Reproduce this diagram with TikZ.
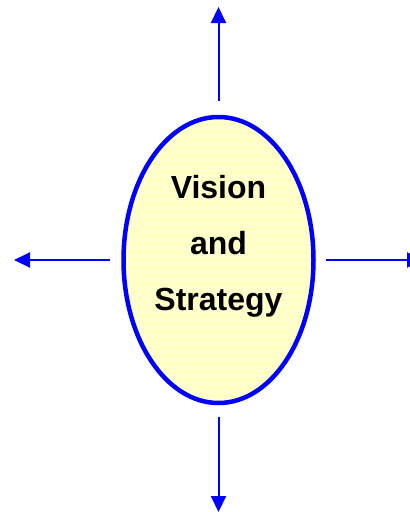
\documentclass[tikz,border=0pt]{standalone}
\usepackage{fontspec}
\setmainfont{Liberation Sans}
\usepackage{xcolor}
\usetikzlibrary{arrows.meta,shapes.geometric}

\definecolor{vsblue}{RGB}{0,0,255}
\definecolor{vsfill}{RGB}{255,255,210}
\definecolor{vsgrid}{RGB}{255,255,178}

\begin{document}
\begin{tikzpicture}[x=1pt,y=-1pt]
		\tikzstyle{vision}=[ellipse, draw=vsblue, line width=4.5pt, fill=vsfill, minimum width=190pt, minimum height=286pt, inner sep=0pt,
			path picture={\draw[vsgrid, line width=0.7pt] (path picture bounding box.south west) grid[step=8pt] (path picture bounding box.north east);}]
		\tikzstyle{vs_text}=[align=center, font=\fontsize{32}{56}\selectfont\bfseries]
		\tikzstyle{out_arrow}=[draw=vsblue, fill=vsblue, line width=2pt, -{Triangle[length=16pt,width=15pt]}]

		\useasboundingbox (0,0) rectangle (410,512);

		\node [vision] (vs) at (218.5,260) {};
		\node [vs_text] (label) at ([yshift=14pt]vs.center) {Vision\\and\\Strategy};

		% free ends of the four arrows
		\coordinate (up) at (218.5,7);
		\coordinate (down) at (218.5,512);
		\coordinate (left) at (14,260);
		\coordinate (right) at (423,260);

		\draw [out_arrow] ([yshift=14pt]vs.north) -- (up);
		\draw [out_arrow] ([yshift=-12pt]vs.south) -- (down);
		\draw [out_arrow] ([xshift=-11pt]vs.west) -- (left);
		\draw [out_arrow] ([xshift=10pt]vs.east) -- (right);

	\end{tikzpicture}
\end{document}
